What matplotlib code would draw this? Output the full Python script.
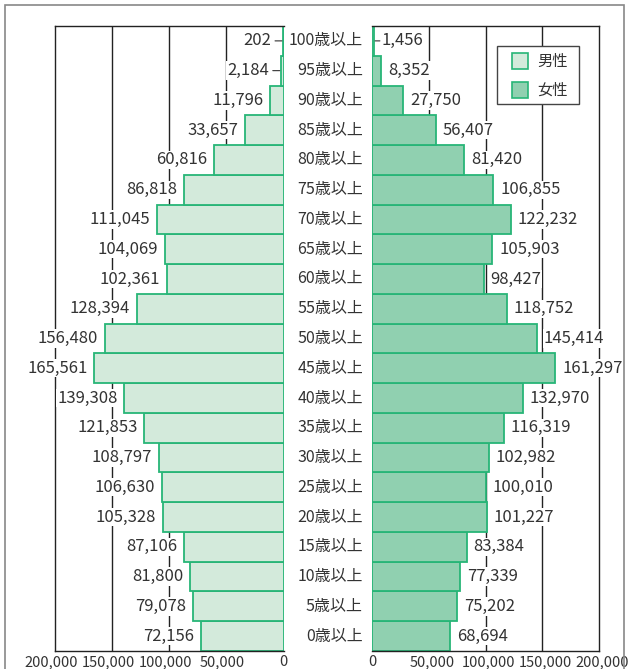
import numpy as np
import matplotlib.pyplot as plt
from matplotlib.patches import Rectangle
from matplotlib.transforms import blended_transform_factory, ScaledTranslation

plt.rcParams['font.family'] = ['Noto Sans CJK JP', 'DejaVu Sans']

# %% Data
age_labels = ['0歳以上', '5歳以上', '10歳以上', '15歳以上', '20歳以上', '25歳以上',
              '30歳以上', '35歳以上', '40歳以上', '45歳以上', '50歳以上', '55歳以上',
              '60歳以上', '65歳以上', '70歳以上', '75歳以上', '80歳以上', '85歳以上',
              '90歳以上', '95歳以上', '100歳以上']
male = [72156, 79078, 81800, 87106, 105328, 106630, 108797, 121853, 139308, 165561,
        156480, 128394, 102361, 104069, 111045, 86818, 60816, 33657, 11796, 2184, 202]
female = [68694, 75202, 77339, 83384, 101227, 100010, 102982, 116319, 132970, 161297,
          145414, 118752, 98427, 105903, 122232, 106855, 81420, 56407, 27750, 8352, 1456]
ticks = [0, 50000, 100000, 150000, 200000]
tick_labels = ['0', '50,000', '100,000', '150,000', '200,000']
legend_labels = ['男性', '女性']

male_color = '#d3eadb'
female_color = '#90d0b0'
edge_color = '#27b577'
grid_color = '#222222'
text_color = '#333333'

# %% Layout (pixels -> figure fractions)
W, H = 629, 669
fig = plt.figure(figsize=(W / 100, H / 100), dpi=100)
top_px, bot_px = 26, 651
axL = fig.add_axes([55 / W, 1 - bot_px / H, (283.6 - 55) / W, (bot_px - top_px) / H])
axR = fig.add_axes([372 / W, 1 - bot_px / H, (599 - 372) / W, (bot_px - top_px) / H])

y = np.arange(len(age_labels))

# outer frame
fig.patches.append(Rectangle((4.5 / W, -0.05), (624 - 4.5) / W, 1 - 5 / H + 0.05,
                             transform=fig.transFigure, fill=False,
                             edgecolor='#888888', linewidth=1.2))

for ax, vals, color, side in [(axL, male, male_color, 'L'), (axR, female, female_color, 'R')]:
    ax.barh(y, vals, height=1.0, color=color, edgecolor=edge_color, linewidth=1.3, zorder=2)
    ax.set_ylim(-0.5, len(y) - 0.5)
    ax.set_xlim(0, 200000)
    for t in ticks[1:4]:
        ax.axvline(t, color=grid_color, linewidth=1, zorder=1)
    ax.set_xticks(ticks)
    ax.set_xticklabels(tick_labels, fontsize=10.5, color=text_color)
    ax.tick_params(axis='x', length=0, pad=3)
    ax.set_yticks([])
    for s in ax.spines.values():
        s.set_color(grid_color)
        s.set_linewidth(1)
    if side == 'L':
        ax.invert_xaxis()
        ax.spines['right'].set_visible(False)
    else:
        ax.spines['left'].set_visible(False)

    # nudge the non-zero tick labels outward a little, like the reference
    shift = -4 if side == 'L' else 3
    for lab, t in zip(ax.get_xticklabels(), ticks):
        if t != 0:
            lab.set_transform(lab.get_transform() + ScaledTranslation(shift / 100, 0, fig.dpi_scale_trans))

    # value labels
    for yi, v in zip(y, vals):
        txt = f'{v:,}'
        small = v < 5000
        if side == 'L':
            ax.annotate(txt, (v, yi), xytext=(-5 if not small else -9, 0),
                        textcoords='offset points', ha='right', va='center',
                        fontsize=12, color=text_color, zorder=3,
                        bbox=dict(fc='white', ec='none', pad=0.5))
            if small:
                ax.annotate('', (v, yi), xytext=(-6, 0), textcoords='offset points',
                            arrowprops=dict(arrowstyle='-', color=text_color, lw=0.8,
                                            shrinkA=0, shrinkB=1))
        else:
            ax.annotate(txt, (v, yi), xytext=(5 if not small else 6, 0),
                        textcoords='offset points', ha='left', va='center',
                        fontsize=12, color=text_color, zorder=3,
                        bbox=dict(fc='white', ec='none', pad=0.5))
            if small:
                ax.annotate('', (v, yi), xytext=(4.5, 0), textcoords='offset points',
                            arrowprops=dict(arrowstyle='-', color=text_color, lw=0.8,
                                            shrinkA=0, shrinkB=1))

# age labels in the middle column
trans = blended_transform_factory(fig.transFigure, axL.transData)
for yi, lab in zip(y, age_labels):
    fig.text(363 / W, yi, lab, transform=trans, ha='right', va='center',
             fontsize=11.5, color=text_color)

# legend box, drawn by hand to match the reference spacing
def px(x0, y0):
    return x0 / W, 1 - y0 / H

fig.patches.append(Rectangle(px(497, 104), 82 / W, 58 / H, transform=fig.transFigure,
                             facecolor='white', edgecolor='#444444', linewidth=1, zorder=5))
for i, (lab, col) in enumerate(zip(legend_labels, [male_color, female_color])):
    top = 53 + i * 29
    fig.patches.append(Rectangle(px(512, top + 16), 16 / W, 16 / H, transform=fig.transFigure,
                                 facecolor=col, edgecolor=edge_color, linewidth=1.2, zorder=6))
    fig.text(*px(537, top + 8), lab, ha='left', va='center', fontsize=11,
             color=text_color, zorder=7)

fig.savefig('out.png', dpi=100)
